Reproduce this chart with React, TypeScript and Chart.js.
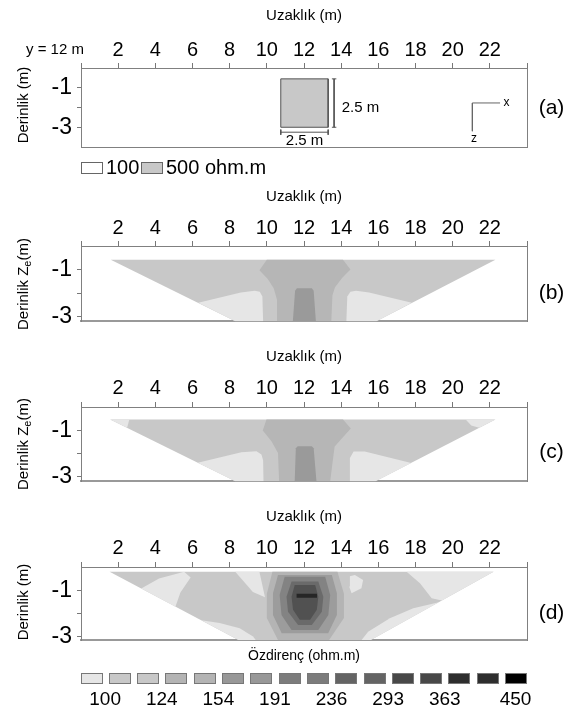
import React, { useEffect, useRef } from "react";
import { Chart, registerables } from "chart.js";

Chart.register(...registerables);

const FONT = 'Arial, "Liberation Sans", Helvetica, sans-serif';
type Pt = [number, number];

// ---------- axes ----------
const X_TICKS = [0, 2, 4, 6, 8, 10, 12, 14, 16, 18, 20, 22, 24];
const X_TICK_LABELS = ["", "2", "4", "6", "8", "10", "12", "14", "16", "18", "20", "22", ""];
const Y_TICKS = [-1, -2, -3];
const Y_TICK_LABELS = ["-1", "", "-3"];
const X_TITLE = "Uzaklık (m)";

// ---------- resistivity levels (ohm.m) ----------
const LEVEL_LABELS = ["100", "124", "154", "191", "236", "293", "363", "450"];
const LEVEL_COLORS = [
  "#e6e6e6", "#c8c8c8", "#c8c8c8", "#b4b4b4", "#b4b4b4", "#989898", "#989898", "#7c7c7c",
  "#7c7c7c", "#646464", "#646464", "#484848", "#484848", "#2e2e2e", "#2e2e2e", "#000000",
];
const LIGHT = "#e6e6e6";
const GREY = "#c8c8c8";
const MID = "#b6b6b6";
const DARK = "#9a9a9a";
const RING_COLORS = ["#b4b4b4", "#9c9c9c", "#838383", "#6a6a6a", "#515151", "#262626"];

// ---------- (a) model ----------
const A_LEGEND = ["100", "500 ohm.m"];
const A_BLOCK: Pt[] = [[10.75, -0.55], [13.3, -0.55], [13.3, -3.0], [10.75, -3.0]];
const A_DIM_V: Pt[] = [[13.62, -0.55], [13.62, -3.0]];
const A_DIM_V_CAP1: Pt[] = [[13.5, -0.55], [13.74, -0.55]];
const A_DIM_V_CAP2: Pt[] = [[13.5, -3.0], [13.74, -3.0]];
const A_DIM_H: Pt[] = [[10.75, -3.25], [13.3, -3.25]];
const A_DIM_H_CAP1: Pt[] = [[10.75, -3.12], [10.75, -3.38]];
const A_DIM_H_CAP2: Pt[] = [[13.3, -3.12], [13.3, -3.38]];
const A_ICON: Pt[] = [[22.55, -1.77], [21.06, -1.77], [21.06, -3.2]];

// ---------- (b) ----------
const B_OUTER: Pt[] = [[1.6, -0.58], [22.3, -0.58], [15.9, -3.2], [8.3, -3.2]];
const B_LOBE_L: Pt[] = [[6.31, -2.42], [8.6, -1.98], [9.35, -1.9], [9.62, -1.95], [9.76, -2.15], [9.8, -3.2], [8.3, -3.2]];
const B_LOBE_R: Pt[] = [[14.28, -3.2], [14.33, -2.15], [14.5, -1.95], [14.8, -1.9], [15.5, -1.98], [17.8, -2.42], [15.9, -3.2]];
const B_COLUMN: Pt[] = [[10.0, -0.58], [14.1, -0.58], [14.5, -1.0], [14.06, -1.35], [13.67, -1.75], [13.53, -2.1], [13.47, -3.2], [10.6, -3.2], [10.55, -2.3], [10.37, -1.8], [10.05, -1.4], [9.6, -1.03]];
const B_CORE: Pt[] = [[11.4, -3.2], [11.52, -1.9], [11.62, -1.8], [12.42, -1.8], [12.52, -1.9], [12.64, -3.2]];

// ---------- (c) ----------
const C_OUTER: Pt[] = [[1.57, -0.54], [22.3, -0.54], [15.85, -3.2], [8.3, -3.2]];
const C_CORNER_L: Pt[] = [[1.57, -0.54], [2.6, -0.54], [2.48, -0.9]];
const C_CORNER_R: Pt[] = [[20.7, -0.54], [22.3, -0.54], [21.43, -0.9], [21.0, -0.8]];
const C_LOBE_L: Pt[] = [[6.28, -2.4], [8.63, -1.95], [9.44, -1.91], [9.71, -2.05], [9.8, -2.3], [9.82, -3.2], [8.3, -3.2]];
const C_LOBE_R: Pt[] = [[14.44, -3.2], [14.47, -2.2], [14.67, -1.92], [15.27, -1.92], [17.77, -2.41], [15.85, -3.2]];
const C_COLUMN: Pt[] = [[9.98, -0.54], [14.1, -0.54], [14.52, -0.93], [14.12, -1.28], [13.65, -1.7], [13.59, -2.06], [13.41, -3.2], [10.66, -3.2], [10.6, -1.98], [10.25, -1.48], [9.78, -1.01]];
const C_CORE: Pt[] = [[11.5, -3.2], [11.56, -1.78], [11.66, -1.69], [12.42, -1.69], [12.52, -1.78], [12.67, -3.2]];

// ---------- (d) ----------
const D_OUTER: Pt[] = [[1.54, -0.21], [22.2, -0.21], [15.6, -3.15], [8.47, -3.15]];
const D_LIGHT_A: Pt[] = [[3.24, -0.93], [4.2, -0.5], [5.55, -0.21], [5.9, -0.45], [5.35, -1.1], [5.08, -1.71]];
const D_LIGHT_B: Pt[] = [[8.3, -0.21], [9.6, -0.21], [9.9, -1.3], [9.25, -1.08]];
const D_LIGHT_C: Pt[] = [[6.47, -2.3], [7.46, -2.42], [8.54, -2.64], [9.26, -3.0], [9.4, -3.15], [8.47, -3.15]];
const D_LIGHT_D: Pt[] = [[14.47, -0.4], [14.74, -0.34], [15.18, -0.56], [15.09, -0.92], [14.56, -1.13], [14.43, -0.84]];
const D_LIGHT_E: Pt[] = [[17.52, -0.21], [22.2, -0.21], [19.42, -1.45], [18.87, -1.35], [18.24, -0.7]];
const D_LIGHT_F: Pt[] = [[19.26, -1.52], [17.88, -1.78], [16.62, -2.21], [15.45, -2.79], [15.1, -3.15], [15.6, -3.15]];
const D_RING1: Pt[] = [[10.3, -0.21], [13.8, -0.21], [14.15, -1.15], [14.15, -2.2], [13.35, -3.15], [10.6, -3.15], [10.0, -2.2], [10.0, -1.15]];
const D_RING2: Pt[] = [[10.6, -0.34], [13.5, -0.34], [13.77, -1.13], [13.77, -2.07], [13.3, -2.86], [10.8, -2.86], [10.33, -2.07], [10.33, -1.13]];
const D_RING3: Pt[] = [[10.96, -0.42], [13.14, -0.42], [13.41, -1.21], [13.31, -2.07], [12.77, -2.72], [11.33, -2.72], [10.79, -2.07], [10.69, -1.21]];
const D_RING4: Pt[] = [[11.33, -0.63], [12.77, -0.63], [13.04, -1.28], [12.96, -1.93], [12.42, -2.5], [11.68, -2.5], [11.14, -1.93], [11.06, -1.28]];
const D_CORE: Pt[] = [[11.5, -0.78], [12.6, -0.78], [12.77, -1.28], [12.69, -1.85], [12.33, -2.28], [11.77, -2.28], [11.41, -1.85], [11.33, -1.28]];
const D_LINE: Pt[] = [[11.6, -1.24], [12.7, -1.24]];

// ---------- layout ----------
const W = 577;
const BOX_LEFT = 81;
const BOX_RIGHT = 527;

interface Layer { pts: Pt[]; color: string; line?: boolean; border?: string; bw?: number }
interface PanelCfg {
  id: string; top: number; height: number; boxTop: number; boxBottom: number; zMin: number;
  titlePad: number; tickPad: number; bottomBorder: number; label: string; labelY: number;
  yTitleY: number; sub: boolean;
  layers: Layer[];
  extra?: (ctx: CanvasRenderingContext2D, px: (v: number) => number, py: (v: number) => number) => void;
}

function txt(ctx: CanvasRenderingContext2D, s: string, x: number, y: number, size: number, align: CanvasTextAlign = "left") {
  ctx.font = `${size}px ${FONT}`;
  ctx.fillStyle = "#000";
  ctx.textAlign = align;
  ctx.textBaseline = "middle";
  ctx.fillText(s, x, y);
}

function yTitle(ctx: CanvasRenderingContext2D, cx: number, cy: number, sub: boolean) {
  ctx.save();
  ctx.translate(cx, cy);
  ctx.rotate(-Math.PI / 2);
  ctx.fillStyle = "#000";
  ctx.textBaseline = "middle";
  const f = `15px ${FONT}`;
  const fs = `11px ${FONT}`;
  if (!sub) {
    ctx.font = f;
    ctx.textAlign = "center";
    ctx.fillText("Derinlik (m)", 0, 0);
  } else {
    ctx.textAlign = "left";
    ctx.font = f;
    const w1 = ctx.measureText("Derinlik Z").width;
    const w3 = ctx.measureText("(m)").width;
    ctx.font = fs;
    const w2 = ctx.measureText("e").width;
    const x0 = -(w1 + w2 + w3) / 2;
    ctx.font = f;
    ctx.fillText("Derinlik Z", x0, 0);
    ctx.font = fs;
    ctx.fillText("e", x0 + w1, 4);
    ctx.font = f;
    ctx.fillText("(m)", x0 + w1 + w2, 0);
  }
  ctx.restore();
}

const PANELS: PanelCfg[] = [
  {
    id: "a", top: 0, height: 180, boxTop: 68, boxBottom: 147, zMin: -4, titlePad: 7, tickPad: 1,
    bottomBorder: 1, label: "(a)", labelY: 108, yTitleY: 105, sub: false,
    layers: [
      { pts: A_BLOCK, color: GREY, border: "#555", bw: 1 },
      { pts: A_DIM_V, color: "#555", line: true, border: "#555", bw: 1 },
      { pts: A_DIM_V_CAP1, color: "#555", line: true, border: "#555", bw: 1 },
      { pts: A_DIM_V_CAP2, color: "#555", line: true, border: "#555", bw: 1 },
      { pts: A_DIM_H, color: "#555", line: true, border: "#555", bw: 1 },
      { pts: A_DIM_H_CAP1, color: "#555", line: true, border: "#555", bw: 1 },
      { pts: A_DIM_H_CAP2, color: "#555", line: true, border: "#555", bw: 1 },
      { pts: A_ICON, color: "#666", line: true, border: "#666", bw: 1 },
    ],
    extra: (ctx, px, py) => {
      txt(ctx, "y = 12 m", 26, 50, 15, "left");
      txt(ctx, "2.5 m", px(14.03), py(-2.0), 15, "left");
      txt(ctx, "2.5 m", px(12.03), py(-3.7), 15, "center");
      txt(ctx, "x", px(22.9), py(-1.77), 12, "center");
      txt(ctx, "z", px(21.15), py(-3.6), 12, "center");
      ctx.lineWidth = 1;
      ctx.strokeStyle = "#666";
      ctx.fillStyle = "#fff";
      ctx.fillRect(81.5, 162.5, 21, 11);
      ctx.strokeRect(81.5, 162.5, 21, 11);
      txt(ctx, A_LEGEND[0], 106, 168, 20, "left");
      ctx.fillStyle = GREY;
      ctx.fillRect(141.5, 162.5, 21, 11);
      ctx.strokeRect(141.5, 162.5, 21, 11);
      txt(ctx, A_LEGEND[1], 166, 168, 20, "left");
    },
  },
  {
    id: "b", top: 180, height: 160, boxTop: 66, boxBottom: 142, zMin: -3.2, titlePad: 8, tickPad: 1,
    bottomBorder: 2, label: "(b)", labelY: 113, yTitleY: 104, sub: true,
    layers: [
      { pts: B_OUTER, color: GREY },
      { pts: B_LOBE_L, color: LIGHT },
      { pts: B_LOBE_R, color: LIGHT },
      { pts: B_COLUMN, color: MID },
      { pts: B_CORE, color: DARK },
    ],
  },
  {
    id: "c", top: 340, height: 160, boxTop: 67, boxBottom: 142, zMin: -3.2, titlePad: 8, tickPad: 2,
    bottomBorder: 2, label: "(c)", labelY: 112, yTitleY: 104, sub: true,
    layers: [
      { pts: C_OUTER, color: GREY },
      { pts: C_CORNER_L, color: LIGHT },
      { pts: C_CORNER_R, color: LIGHT },
      { pts: C_LOBE_L, color: LIGHT },
      { pts: C_LOBE_R, color: LIGHT },
      { pts: C_COLUMN, color: MID },
      { pts: C_CORE, color: DARK },
    ],
  },
  {
    id: "d", top: 500, height: 209, boxTop: 67, boxBottom: 140, zMin: -3.15, titlePad: 8, tickPad: 2,
    bottomBorder: 2, label: "(d)", labelY: 113, yTitleY: 102, sub: false,
    layers: [
      { pts: D_OUTER, color: GREY },
      { pts: D_LIGHT_A, color: LIGHT },
      { pts: D_LIGHT_B, color: LIGHT },
      { pts: D_LIGHT_C, color: LIGHT },
      { pts: D_LIGHT_D, color: LIGHT },
      { pts: D_LIGHT_E, color: LIGHT },
      { pts: D_LIGHT_F, color: LIGHT },
      { pts: D_RING1, color: RING_COLORS[0] },
      { pts: D_RING2, color: RING_COLORS[1] },
      { pts: D_RING3, color: RING_COLORS[2] },
      { pts: D_RING4, color: RING_COLORS[3] },
      { pts: D_CORE, color: RING_COLORS[4] },
      { pts: D_LINE, color: RING_COLORS[5], line: true, border: RING_COLORS[5], bw: 4 },
    ],
    extra: (ctx, px) => {
      txt(ctx, "Özdirenç (ohm.m)", px(12), 156, 14, "center");
      const x0 = 80.5, step = 28.3, sw = 21;
      ctx.lineWidth = 1;
      ctx.strokeStyle = "#777";
      LEVEL_COLORS.forEach((c, i) => {
        const x = Math.round(x0 + step * i) + 0.5;
        ctx.fillStyle = c;
        ctx.fillRect(x, 173.5, sw, 10);
        ctx.strokeRect(x, 173.5, sw, 10);
      });
      LEVEL_LABELS.forEach((s, k) => {
        const x = k < 7 ? x0 + step * (2 * k) + sw + (step - sw) / 2 : x0 + step * 15 + sw / 2;
        txt(ctx, s, x, 199.5, 19, "center");
      });
    },
  },
];

function buildChart(canvas: HTMLCanvasElement, p: PanelCfg): Chart {
  const datasets = p.layers.map((L, i) => {
    const data = L.pts.map(([x, y]) => ({ x, y }));
    if (!L.line) data.push({ x: L.pts[0][0], y: L.pts[0][1] });
    return {
      data,
      fill: L.line ? false : "shape",
      backgroundColor: L.color,
      borderColor: L.border ?? "rgba(0,0,0,0)",
      borderWidth: L.bw ?? 0,
      pointRadius: 0,
      pointHoverRadius: 0,
      pointHitRadius: 0,
      tension: 0,
      order: -i,
      xAxisID: "x",
      yAxisID: "y",
    };
  });
  const decor = {
    id: "decor",
    afterDraw(chart: any) {
      const ctx = chart.ctx as CanvasRenderingContext2D;
      const sx = chart.scales.x, sy = chart.scales.y;
      const px = (v: number) => sx.getPixelForValue(v);
      const py = (v: number) => sy.getPixelForValue(v);
      ctx.save();
      yTitle(ctx, 24, p.yTitleY, p.sub);
      txt(ctx, p.label, 551.5, p.labelY, 21, "center");
      if (p.extra) p.extra(ctx, px, py);
      ctx.restore();
    },
  };
  const axisColor = "#808080";
  return new Chart(canvas, {
    type: "line",
    data: { datasets: datasets as any },
    options: {
      responsive: false,
      maintainAspectRatio: false,
      animation: false,
      devicePixelRatio: 1,
      events: [],
      layout: { padding: 0 },
      plugins: { legend: { display: false }, tooltip: { enabled: false }, title: { display: false } },
      scales: {
        x: {
          type: "linear",
          position: "top",
          min: 0,
          max: 24,
          afterBuildTicks: (s: any) => { s.ticks = X_TICKS.map((value) => ({ value })); },
          afterFit: (s: any) => { s.height = p.boxTop; },
          ticks: {
            callback: (v: any, i: number) => X_TICK_LABELS[i] ?? "",
            font: { family: FONT, size: 20 },
            color: "#000",
            padding: p.tickPad,
            maxRotation: 0,
            minRotation: 0,
            autoSkip: false,
          },
          grid: { display: true, drawOnChartArea: false, drawTicks: true, tickLength: 5, color: "#777", lineWidth: 1 },
          border: { display: true, color: axisColor, width: 1 },
          title: { display: true, text: X_TITLE, font: { family: FONT, size: 15 }, color: "#000", padding: { top: p.titlePad, bottom: 0 } },
        },
        xb: {
          type: "linear",
          position: "bottom",
          min: 0,
          max: 24,
          afterFit: (s: any) => { s.height = p.height - p.boxBottom; },
          ticks: { display: false },
          grid: { display: false, drawTicks: false },
          border: { display: true, color: p.bottomBorder > 1 ? "#999" : axisColor, width: p.bottomBorder },
        },
        y: {
          type: "linear",
          position: "left",
          min: p.zMin,
          max: 0,
          afterBuildTicks: (s: any) => { s.ticks = Y_TICKS.map((value) => ({ value })); },
          afterFit: (s: any) => { s.width = BOX_LEFT; },
          ticks: {
            callback: (v: any, i: number) => Y_TICK_LABELS[i] ?? "",
            font: { family: FONT, size: 23 },
            color: "#000",
            padding: 5,
            autoSkip: false,
          },
          grid: { display: true, drawOnChartArea: false, drawTicks: true, tickLength: 4, color: "#777", lineWidth: 1 },
          border: { display: true, color: axisColor, width: 1 },
        },
        yr: {
          type: "linear",
          position: "right",
          afterFit: (s: any) => { s.width = W - BOX_RIGHT; },
          ticks: { display: false },
          grid: { display: false, drawTicks: false },
          border: { display: true, color: axisColor, width: 1 },
        },
      },
    } as any,
    plugins: [decor],
  });
}

function Panel({ cfg }: { cfg: PanelCfg }) {
  const ref = useRef<HTMLCanvasElement>(null);
  useEffect(() => {
    if (!ref.current) return;
    const chart = buildChart(ref.current, cfg);
    return () => chart.destroy();
  }, [cfg]);
  return (
    <canvas
      ref={ref}
      width={W}
      height={cfg.height}
      style={{ position: "absolute", left: 0, top: cfg.top, width: W, height: cfg.height, display: "block" }}
    />
  );
}

export default function App() {
  return (
    <div style={{ position: "absolute", left: 0, top: 0, width: W, height: 709, background: "#fff", overflow: "hidden" }}>
      {PANELS.map((p) => (
        <Panel key={p.id} cfg={p} />
      ))}
    </div>
  );
}
